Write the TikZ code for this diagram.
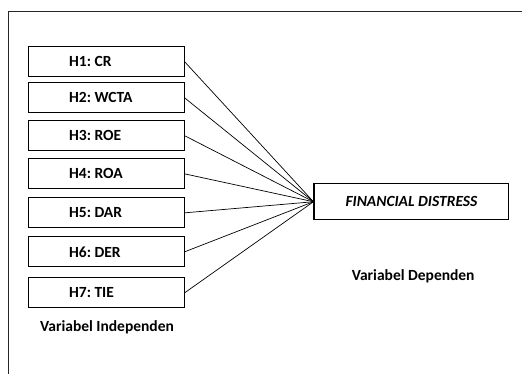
\documentclass[tikz,border=0pt]{standalone}
\usepackage{fontspec}
\setmainfont{Carlito}
\usepackage{tikz}
\usetikzlibrary{positioning}
\newcommand{\hyplabel}[1]{\makebox[2.6cm][l]{#1}}

\begin{document}
\begin{tikzpicture}[
    every node/.style={font=\bfseries\fontsize{15.5}{18}\selectfont\frenchspacing},
    hyp/.style={draw, line width=1.1pt, minimum width=5.48cm, minimum height=1.05cm, inner sep=0pt},
    dep/.style={draw, line width=1.1pt, minimum width=6.85cm, minimum height=1.27cm, inner sep=0pt},
    link/.style={line width=0.7pt}
]
    \useasboundingbox (0,0) rectangle (18.38,13.14);
    \draw[line width=0.9pt, black!85] (18.35,12.72) -- (0.28,12.72) -- (0.28,0);

    % variabel independen
    \node[hyp] (h1) at (3.73,10.97) {\hyplabel{H1: CR}};
    \node[hyp] (h2) at (3.73,9.70) {\hyplabel{H2: WCTA}};
    \node[hyp] (h3) at (3.73,8.37) {\hyplabel{H3: ROE}};
    \node[hyp] (h4) at (3.73,7.03) {\hyplabel{H4: ROA}};
    \node[hyp] (h5) at (3.73,5.66) {\hyplabel{H5: DAR}};
    \node[hyp] (h6) at (3.73,4.29) {\hyplabel{H6: DER}};
    \node[hyp] (h7) at (3.73,2.85) {\hyplabel{H7: TIE}};
    \node (indep) at (3.76,1.65) {Variabel Independen};

    % variabel dependen
    \node[dep] (fd) at (14.46,6.05) {\itshape FINANCIAL DISTRESS};
    \node (depen) at (14.52,3.44) {Variabel Dependen};

    \draw[link] (h1.east) -- (fd.west);
    \draw[link] (h2.east) -- (fd.west);
    \draw[link] (h3.east) -- (fd.west);
    \draw[link] (h4.east) -- (fd.west);
    \draw[link] (h5.east) -- (fd.west);
    \draw[link] (h6.east) -- (fd.west);
    \draw[link] (h7.east) -- (fd.west);
\end{tikzpicture}
\end{document}
